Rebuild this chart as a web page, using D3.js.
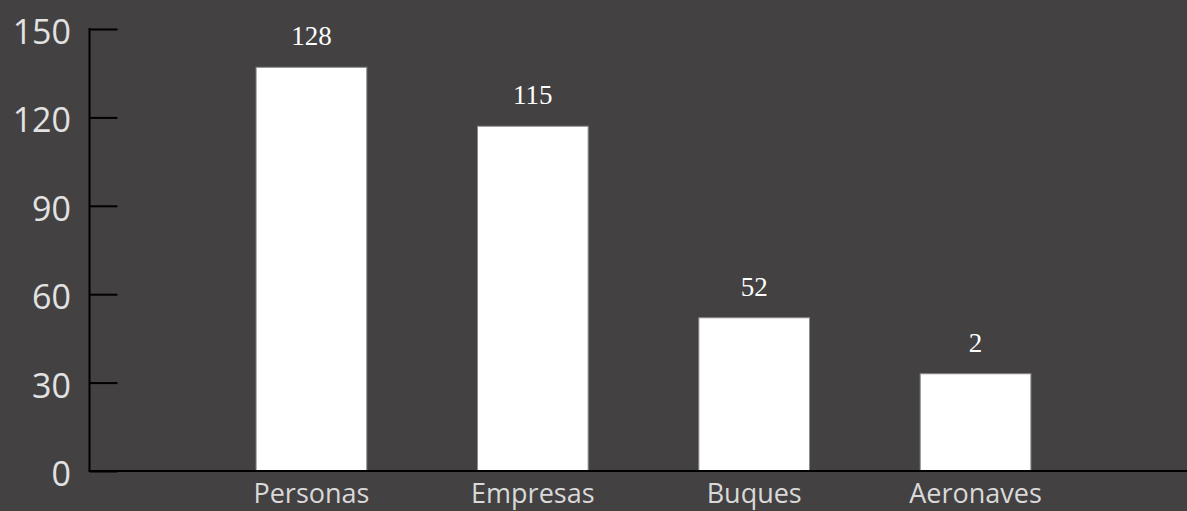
<!DOCTYPE html>
<html>
<head>
<meta charset="utf-8">
<script src="https://cdn.jsdelivr.net/npm/d3@7"></script>
<style>
  html, body { margin: 0; padding: 0; background: #434142; }
  svg { display: block; }
</style>
</head>
<body>
<div id="chart"></div>
<script>
const categories = ['Personas', 'Empresas', 'Buques', 'Aeronaves'];
// bar heights as drawn in the picture
const barValues = [137, 117, 52, 33];
// labels printed above the bars
const valueLabels = ['128', '115', '52', '2'];
const yTicks = [0, 30, 60, 90, 120, 150];

function drawChart() {
    const width = 1187, height = 511;
    const svg = d3.select('#chart').append('svg')
        .attr('width', width)
        .attr('height', height);

    const xScale = d3.scaleBand()
        .domain(categories)
        .range([89, width])
        .paddingInner(0.5)
        .paddingOuter(0.73)
        .align(0.517);

    const yScale = d3.scaleLinear()
        .domain([0, 150])
        .range([471, 29]);

    // Bars
    svg.selectAll('.bar')
        .data(categories)
        .enter()
        .append('rect')
        .attr('class', 'bar')
        .attr('x', d => xScale(d))
        .attr('y', (d, i) => yScale(barValues[i]))
        .attr('width', xScale.bandwidth())
        .attr('height', (d, i) => yScale(0) - yScale(barValues[i]))
        .attr('fill', '#ffffff')
        .attr('stroke', '#8a8a8a')
        .attr('stroke-width', 1);

    // Value labels
    svg.selectAll('.value-label')
        .data(categories)
        .enter()
        .append('text')
        .attr('class', 'value-label')
        .attr('x', d => xScale(d) + xScale.bandwidth() / 2)
        .attr('y', (d, i) => yScale(barValues[i]) - 22)
        .attr('text-anchor', 'middle')
        .style('font-family', '"Liberation Serif", serif')
        .style('font-size', '27px')
        .style('fill', '#ffffff')
        .text((d, i) => valueLabels[i]);

    // Y axis
    const yAxis = svg.append('g')
        .attr('transform', 'translate(89.5,0)')
        .call(d3.axisRight(yScale).tickValues(yTicks).tickSize(28).tickFormat(''));
    yAxis.select('.domain').remove();
    yAxis.selectAll('.tick line').attr('stroke', '#000').attr('stroke-width', 2);

    svg.append('line')
        .attr('x1', 89.5).attr('x2', 89.5)
        .attr('y1', yScale(150) - 1).attr('y2', yScale(0))
        .attr('stroke', '#000').attr('stroke-width', 2);

    svg.selectAll('.y-label')
        .data(yTicks)
        .enter()
        .append('text')
        .attr('class', 'y-label')
        .attr('x', 71)
        .attr('y', d => yScale(d) + 3)
        .attr('dy', '0.35em')
        .attr('text-anchor', 'end')
        .style('font-family', '"Open Sans", sans-serif')
        .style('font-size', '34px')
        .style('fill', '#e2e2e2')
        .text(d => d);

    // X axis
    svg.append('line')
        .attr('x1', 88.5).attr('x2', width)
        .attr('y1', yScale(0)).attr('y2', yScale(0))
        .attr('stroke', '#000').attr('stroke-width', 2);

    svg.selectAll('.x-label')
        .data(categories)
        .enter()
        .append('text')
        .attr('class', 'x-label')
        .attr('x', d => xScale(d) + xScale.bandwidth() / 2)
        .attr('y', 503)
        .attr('text-anchor', 'middle')
        .style('font-family', '"Open Sans", sans-serif')
        .style('font-size', '27px')
        .style('fill', '#d9d9d9')
        .text(d => d);
}

drawChart();
</script>
</body>
</html>
